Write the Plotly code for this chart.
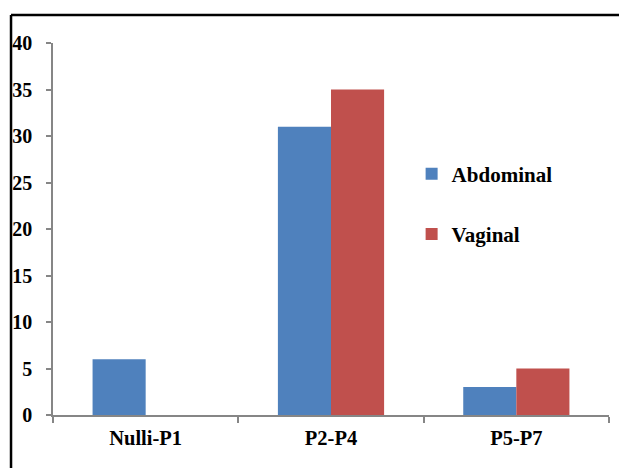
import plotly.graph_objects as go

categories = ["Nulli-P1", "P2-P4", "P5-P7"]
abdominal = [6, 31, 3]
vaginal = [0, 35, 5]
y_ticks = [0, 5, 10, 15, 20, 25, 30, 35, 40]

FONT = "Times New Roman, Liberation Serif, serif"

fig = go.Figure()
fig.add_trace(go.Bar(name="<b>Abdominal</b>", x=categories, y=abdominal,
                     marker=dict(color="#4F81BD", line=dict(width=0)),
                     legendgroup="a"))
fig.add_trace(go.Bar(name="<b>Vaginal</b>", x=categories, y=vaginal,
                     marker=dict(color="#C0504D", line=dict(width=0)),
                     legendgroup="b"))

fig.update_layout(
    width=619, height=468,
    margin=dict(l=53, r=10, t=43, b=53),
    paper_bgcolor="white", plot_bgcolor="white",
    barmode="group", bargap=0.427, bargroupgap=0,
    font=dict(family=FONT, size=20, color="black"),
    legend=dict(x=0.645, y=0.703, xanchor="left", yanchor="top",
                tracegroupgap=30, itemwidth=30,
                font=dict(family=FONT, size=21, color="black"),
                bgcolor="rgba(0,0,0,0)"),
    showlegend=True,
)
fig.update_xaxes(showline=True, linecolor="#868686", linewidth=1.5,
                 ticks="outside", tickson="boundaries", ticklen=6,
                 tickcolor="#868686", tickwidth=1.5,
                 tickfont=dict(family=FONT, size=20.5, color="black"),
                 ticklabelstandoff=4,
                 tickvals=categories,
                 ticktext=["<b>" + c + "</b>" for c in categories],
                 showgrid=False, zeroline=False)
fig.update_yaxes(range=[0, 40], tickvals=y_ticks,
                 ticktext=["<b>%d</b>" % v for v in y_ticks],
                 showline=True, linecolor="#868686", linewidth=1.5,
                 ticks="outside", ticklen=5, tickcolor="#868686", tickwidth=1.5,
                 tickfont=dict(family=FONT, size=20, color="black"),
                 ticklabelstandoff=10,
                 showgrid=False, zeroline=False)

# outer chart border (top and left edges visible)
fig.add_shape(type="line", xref="paper", yref="paper",
              x0=-0.0755, x1=1.2, y0=1.0753, y1=1.0753,
              line=dict(color="black", width=2.5))
fig.add_shape(type="line", xref="paper", yref="paper",
              x0=-0.0755, x1=-0.0755, y0=-0.2, y1=1.0753,
              line=dict(color="black", width=2.5))

fig.write_html("out.html")
